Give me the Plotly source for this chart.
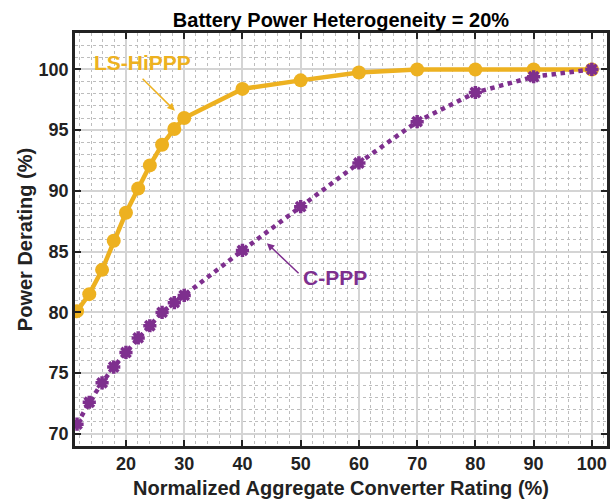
"""Courbes de derating de puissance : LS-HiPPP vs C-PPP (hétérogénéité 20 %)."""

import plotly.graph_objects as go

# Données
rating = [11.6, 13.7, 15.9, 17.9, 20, 22.1, 24.1, 26.2, 28.3, 30, 40, 50, 60, 70, 80, 90, 100]
ls_hippp = [80.1, 81.5, 83.5, 85.9, 88.2, 90.2, 92.1, 93.8, 95.1, 96.0, 98.4, 99.1, 99.75, 100, 100, 100, 100]
c_ppp = [70.8, 72.6, 74.2, 75.5, 76.7, 77.9, 78.9, 80.0, 80.8, 81.4, 85.1, 88.7, 92.3, 95.7, 98.1, 99.4, 100]

x_ticks = [20, 30, 40, 50, 60, 70, 80, 90, 100]
y_ticks = [70, 75, 80, 85, 90, 95, 100]

GOLD = "#EDB120"
PURPLE = "#7E2F8E"
INK = "#222222"
FONT = "Liberation Sans, Arial, sans-serif"

fig = go.Figure()
fig.add_trace(go.Scatter(
    x=rating, y=ls_hippp, mode="lines+markers", name="LS-HiPPP",
    line=dict(color=GOLD, width=4.5),
    marker=dict(symbol="circle", size=14, color=GOLD),
))
fig.add_trace(go.Scatter(
    x=rating, y=c_ppp, mode="lines+markers", name="C-PPP",
    line=dict(color=PURPLE, width=4.5, dash="dot"),
    marker=dict(symbol="asterisk-open", size=11, line=dict(color=PURPLE, width=3.5)),
))

axis_common = dict(
    showline=True, linecolor=INK, linewidth=2.5, mirror="ticks",
    ticks="inside", ticklen=6, tickwidth=2, tickcolor=INK,
    showgrid=True, gridcolor="#D4D4D4", gridwidth=1.5, zeroline=False,
    tickfont=dict(family=FONT, size=18, color=INK, weight="bold"),
)

fig.update_xaxes(
    range=[11.25, 102.6], tickvals=x_ticks,
    title=dict(text="Normalized Aggregate Converter Rating (%)", standoff=8,
               font=dict(family=FONT, size=20, color=INK, weight="bold")),
    minor=dict(dtick=2, tick0=0, showgrid=True, griddash="dot", gridcolor="#BDBDBD", gridwidth=1),
    **axis_common,
)
fig.update_yaxes(
    range=[69, 103], tickvals=y_ticks,
    title=dict(text="Power Derating (%)", standoff=1,
               font=dict(family=FONT, size=20, color=INK, weight="bold")),
    minor=dict(dtick=1, tick0=0, showgrid=True, griddash="dot", gridcolor="#BDBDBD", gridwidth=1),
    **axis_common,
)

annotations = [
    dict(x=22.9, y=100.6, text="LS-HiPPP", showarrow=False,
         font=dict(family=FONT, size=21, color=GOLD, weight="bold")),
    dict(x=28.4, y=96.6, ax=22.6, ay=99.36, axref="x", ayref="y", text="",
         showarrow=True, arrowhead=2, arrowsize=1, arrowwidth=1.5, arrowcolor=GOLD),
    dict(x=55.9, y=82.9, text="C-PPP", showarrow=False,
         font=dict(family=FONT, size=21, color=PURPLE, weight="bold")),
    dict(x=44.2, y=85.7, ax=49.9, ay=83.1, axref="x", ayref="y", text="",
         showarrow=True, arrowhead=2, arrowsize=1, arrowwidth=1.5, arrowcolor=PURPLE),
]

fig.update_layout(
    width=611, height=500,
    margin=dict(l=75, r=4, t=33, b=54, autoexpand=False),
    paper_bgcolor="white", plot_bgcolor="white",
    showlegend=False,
    title=dict(text="Battery Power Heterogeneity = 20%", x=0.558, xanchor="center",
               y=1, yref="paper", yanchor="bottom", pad=dict(b=6),
               font=dict(family=FONT, size=20, color="black", weight="bold")),
    annotations=annotations,
)

# pas de marge de page autour du graphe, pas de barre d'outils
fig.write_html(
    "out.html",
    config={"displayModeBar": False},
    post_script="document.body.style.margin = '0';",
)
